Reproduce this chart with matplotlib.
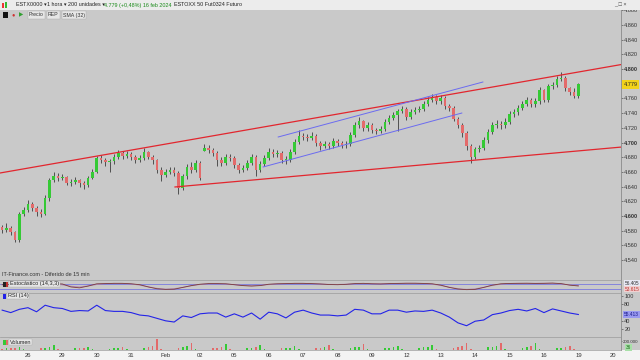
import matplotlib
matplotlib.use("Agg")
import matplotlib.pyplot as plt
import numpy as np
from matplotlib.patches import Rectangle

plt.rcParams['font.family'] = ['Liberation Sans', 'DejaVu Sans']

# ---------------- data ----------------
first_open = 4585
gap_opens = {47: 4689}
closes = [4581, 4584, 4578, 4567, 4603, 4608, 4616, 4611, 4605, 4603,
          4624, 4649, 4654, 4652, 4653, 4645, 4646, 4649, 4645, 4642,
          4652, 4660, 4679, 4676, 4673, 4675, 4680, 4686, 4682, 4684,
          4680, 4676, 4679, 4687, 4680, 4676, 4663, 4656, 4660, 4663,
          4659, 4638, 4654, 4667, 4663, 4672, 4652, 4693, 4690, 4686,
          4676, 4672, 4680, 4679, 4669, 4663, 4665, 4672, 4680, 4663,
          4671, 4679, 4687, 4684, 4686, 4676, 4676, 4687, 4701, 4709,
          4708, 4706, 4709, 4699, 4695, 4698, 4695, 4702, 4699, 4697,
          4698, 4710, 4724, 4729, 4720, 4724, 4717, 4716, 4718, 4728,
          4733, 4737, 4743, 4746, 4735, 4742, 4744, 4746, 4752, 4758,
          4762, 4756, 4761, 4750, 4747, 4732, 4724, 4713, 4695, 4680,
          4691, 4693, 4703, 4714, 4724, 4725, 4724, 4728, 4739, 4742,
          4747, 4752, 4758, 4752, 4756, 4771, 4758, 4777, 4778, 4786,
          4788, 4774, 4769, 4763, 4779]
highs = [4588, 4590, 4587, 4580, 4606, 4612, 4622, 4619, 4614, 4609,
         4628, 4652, 4660, 4658, 4657, 4655, 4650, 4653, 4651, 4648,
         4655, 4664, 4682, 4683, 4679, 4678, 4684, 4690, 4689, 4688,
         4687, 4683, 4683, 4693, 4689, 4683, 4678, 4666, 4664, 4667,
         4666, 4661, 4657, 4671, 4674, 4676, 4675, 4698, 4697, 4693,
         4688, 4680, 4684, 4685, 4682, 4672, 4669, 4676, 4685, 4683,
         4675, 4683, 4692, 4691, 4690, 4688, 4681, 4691, 4705, 4717,
         4713, 4712, 4714, 4711, 4702, 4702, 4701, 4706, 4705, 4702,
         4702, 4714, 4728, 4735, 4731, 4728, 4726, 4720, 4722, 4732,
         4737, 4741, 4746, 4750, 4748, 4746, 4748, 4750, 4756, 4762,
         4766, 4764, 4765, 4763, 4753, 4750, 4735, 4727, 4715, 4698,
         4694, 4697, 4707, 4718, 4728, 4730, 4729, 4733, 4743, 4746,
         4751, 4756, 4762, 4761, 4760, 4775, 4773, 4780, 4782, 4790,
         4796, 4790, 4776, 4774, 4781]
lows = [4577, 4578, 4574, 4564, 4565, 4600, 4606, 4607, 4600, 4598,
        4601, 4621, 4646, 4648, 4649, 4642, 4641, 4643, 4640, 4637,
        4640, 4650, 4658, 4672, 4668, 4660, 4671, 4677, 4678, 4679,
        4676, 4672, 4673, 4676, 4677, 4671, 4659, 4647, 4653, 4657,
        4655, 4630, 4635, 4651, 4659, 4660, 4649, 4688, 4686, 4681,
        4668, 4668, 4670, 4675, 4665, 4659, 4660, 4662, 4670, 4654,
        4660, 4668, 4676, 4680, 4680, 4672, 4671, 4674, 4685, 4698,
        4703, 4702, 4703, 4695, 4690, 4692, 4691, 4692, 4695, 4693,
        4693, 4695, 4708, 4720, 4716, 4716, 4713, 4712, 4713, 4716,
        4725, 4730, 4716, 4740, 4731, 4732, 4739, 4741, 4743, 4749,
        4755, 4752, 4752, 4746, 4743, 4729, 4720, 4708, 4690, 4672,
        4677, 4687, 4690, 4700, 4711, 4720, 4719, 4720, 4725, 4735,
        4738, 4744, 4749, 4748, 4748, 4753, 4755, 4755, 4773, 4775,
        4783, 4770, 4765, 4760, 4760]
volumes = [25, 40, 55, 45, 65, 12, 6, 5,
           8, 40, 55, 60, 110, 15, 6, 5,
           8, 35, 45, 50, 70, 12, 6, 5,
           8, 30, 40, 45, 60, 12, 6, 5,
           8, 45, 70, 80, 250, 20, 8, 5,
           10, 50, 60, 90, 160, 18, 8, 5,
           10, 45, 55, 70, 130, 15, 6, 5,
           8, 40, 50, 60, 110, 12, 6, 5,
           8, 35, 45, 55, 80, 12, 6, 5,
           8, 45, 55, 65, 120, 15, 6, 5,
           8, 50, 60, 75, 140, 15, 6, 5,
           8, 40, 55, 60, 100, 12, 6, 5,
           8, 45, 60, 70, 120, 15, 6, 5,
           10, 55, 70, 90, 150, 20, 8, 5,
           10, 60, 75, 90, 150, 18, 8, 5,
           10, 50, 65, 80, 150, 15, 6, 5,
           8, 40, 55, 60, 90, 12, 1]
rsi_vals = [66, 60, 68, 72, 62, 78, 72, 70, 63, 65, 64, 78, 65, 63, 63, 60,
            54, 52, 46, 40, 37, 52, 48, 57, 59, 59, 49, 57, 49, 59, 44, 61,
            57, 47, 61, 66, 59, 54, 54, 52, 54, 68, 66, 57, 57, 66, 66, 61,
            64, 63, 66, 59, 49, 35, 28, 39, 42, 55, 59, 65, 68, 64, 70, 60,
            69, 64, 59, 55.4]
stoch_k = [70, 72, 75, 78, 80, 82, 82, 78, 45, 35, 55, 80, 82, 85, 85, 80,
           70, 45, 25, 18, 20, 40, 60, 75, 82, 82, 80, 70, 60, 55, 60, 75,
           80, 82, 85, 85, 82, 78, 72, 70, 74, 82, 85, 80, 78, 82, 84, 86,
           86, 84, 80, 65, 40, 22, 15, 18, 40, 65, 80, 84, 85, 86, 84, 85,
           88, 82, 65, 56]
date_labels = ["26", "29", "30", "31", "Feb", "02", "05", "06", "07", "08",
               "09", "12", "13", "14", "15", "16", "19", "20"]
price_ticks = list(range(4540, 4881, 20))
trend_red_upper = ([-0.5, 144.2], [4658.5, 4806.3])
trend_red_lower = ([40.2, 144.2], [4639.5, 4693.9])
trend_blue_upper = ([64.2, 111.8], [4707.5, 4782.3])
trend_blue_lower = ([60.7, 106.9], [4666.7, 4740.1])
last_price = 4779

# ---------------- layout ----------------
W, H = 640, 360
BG = '#c9c9c9'
fig = plt.figure(figsize=(6.4, 3.6), dpi=100)
fig.patch.set_facecolor(BG)

def add_ax(x0, y0, x1, y1):
    a = fig.add_axes([x0 / W, 1 - y1 / H, (x1 - x0) / W, (y1 - y0) / H])
    a.set_facecolor(BG)
    return a

def style_right(a, fs=4.0):
    a.yaxis.tick_right()
    a.tick_params(axis='y', length=1.5, width=0.5, pad=0.8, colors='#555555',
                  labelsize=fs, labelcolor='#333333')
    for s in ('left', 'bottom'):
        a.spines[s].set_visible(False)
    a.spines['top'].set_color('#9a9a9a'); a.spines['top'].set_linewidth(0.5)
    a.spines['right'].set_color('#8a8a8a'); a.spines['right'].set_linewidth(0.6)

XR = 621
xlim = (-0.5, XR / 4.3 - 0.5)
n = len(closes)
idx = np.arange(n)
c = np.array(closes, float)
o = np.r_[first_open, c[:-1]]
for k, v in gap_opens.items():
    o[k] = v
up = c >= o
GREEN = '#35c935'
RED = '#e36a6a'

# main price chart
ax = add_ax(0, 10, XR, 280)
ax.vlines(idx, lows, highs, color='#3c3c3c', lw=0.6, zorder=2)
body_b = np.minimum(o, c)
body_h = np.maximum(np.abs(c - o), 0.9)
ax.bar(idx, body_h, bottom=body_b, width=0.62,
       color=[GREEN if u else RED for u in up], zorder=3, linewidth=0)
for xs, ys in (trend_red_upper, trend_red_lower):
    ax.plot(xs, ys, color='#e2262e', lw=0.9, zorder=4)
for xs, ys in (trend_blue_upper, trend_blue_lower):
    ax.plot(xs, ys, color='#6b6bf0', lw=0.7, zorder=4)
ax.set_xlim(*xlim)
ylo, yhi = 4600 - 64 * 1.3605, 4800 + 59 * 1.3605
ax.set_ylim(ylo, yhi)
style_right(ax)
ax.spines['top'].set_visible(False)
ax.set_yticks(price_ticks)
ax.set_yticklabels([f"{p // 1000}.{p % 1000:03d}" for p in price_ticks])
for lab, p in zip(ax.get_yticklabels(), price_ticks):
    if p % 100 == 0:
        lab.set_fontweight('bold')
ax.set_xticks([])
ax.text(1.0045, (last_price - ylo) / (yhi - ylo),
        "4.779", transform=ax.transAxes, fontsize=4.0, va='center', ha='left',
        color='#222222', zorder=10, clip_on=False,
        bbox=dict(boxstyle='square,pad=0.3', fc='#f2d21a', ec='none'))
ax.text(2 / XR, 3 / 270, "IT-Finance.com - Diferido de 15 min", transform=ax.transAxes,
        fontsize=4.0, color='#333333', va='bottom')

# stochastic
ax_s = add_ax(0, 280, XR, 293)
xs_ind = idx[::2]
sk = np.array(stoch_k, float)
sd = np.convolve(sk, np.ones(3) / 3, mode='same')
sd[0], sd[-1] = sk[0], (sk[-1] + sk[-2]) / 2
ax_s.axhline(80, color='#7a7adf', lw=0.6)
ax_s.axhline(20, color='#7a7adf', lw=0.6)
ax_s.plot(xs_ind, sd, color='#b48bb4', lw=0.7)
ax_s.plot(xs_ind, sk, color='#7a3b3b', lw=0.6)
ax_s.set_xlim(*xlim)
ax_s.set_ylim(-22, 122)
style_right(ax_s)
ax_s.set_xticks([]); ax_s.set_yticks([])
ax_s.text(1.006, 0.74, "56.405", transform=ax_s.transAxes, fontsize=3.4, color='#333',
          va='center', bbox=dict(boxstyle='square,pad=0.1', fc='#e8e8f4', ec='none'))
ax_s.text(1.006, 0.30, "53.615", transform=ax_s.transAxes, fontsize=3.4, color='#c03030',
          va='center', bbox=dict(boxstyle='square,pad=0.1', fc='#f0d0d0', ec='none'))

# RSI
ax_r = add_ax(0, 293, XR, 337)
ax_r.plot(xs_ind, rsi_vals, color='#2323e8', lw=0.8)
ax_r.set_xlim(*xlim)
ax_r.set_ylim(0.5, 107.8)
style_right(ax_r)
ax_r.set_yticks([20, 40, 80, 100])
ax_r.set_yticklabels(["20", "40", "80", "100"])
ax_r.set_xticks([])
ax_r.text(1.0045, (rsi_vals[-1] - 0.5) / 107.3, "55.413", transform=ax_r.transAxes,
          fontsize=3.4, color='#1a1a8a', va='center',
          bbox=dict(boxstyle='square,pad=0.25', fc='#9a9af0', ec='none'))

# volume
ax_v = add_ax(0, 337, XR, 350)
ax_v.bar(idx, volumes, width=0.35, color=[GREEN if u else RED for u in up], linewidth=0)
ax_v.set_xlim(*xlim)
ax_v.set_ylim(0, 289)
style_right(ax_v, fs=3.2)
ax_v.tick_params(axis='y', length=1, pad=0.5)
ax_v.spines['bottom'].set_visible(True)
ax_v.spines['bottom'].set_color('#9a9a9a'); ax_v.spines['bottom'].set_linewidth(0.5)
ax_v.set_yticks([200])
ax_v.set_yticklabels(["200.000"])
ax_v.set_xticks([6 + 8 * k for k in range(len(date_labels))])
ax_v.set_xticklabels(date_labels, fontsize=4.2, color='#333')
ax_v.tick_params(axis='x', length=0, pad=2.5)
ax_v.text(1.008, 0.22, "36", transform=ax_v.transAxes, fontsize=3.4, color='#1a6a1a',
          va='center', bbox=dict(boxstyle='square,pad=0.2', fc='#a8e0a8', ec='none'))

# white date strip
fig.patches.append(Rectangle((0, 0), 1, 10 / H, transform=fig.transFigure,
                             fc='#f3f3f3', ec='none', zorder=-1))

# panel labels
def panel_label(x, y, text, sq_colors):
    fy = 1 - y / H
    for j, col in enumerate(sq_colors):
        fig.patches.append(Rectangle(((x + j * 2.5) / W, fy - 2.5 / H), 2.5 / W, 5 / H,
                                     transform=fig.transFigure, fc=col, ec='none', zorder=5))
    fig.text((x + 2.5 * len(sq_colors) + 2) / W, fy, text, fontsize=4.0, color='#222',
             va='center', zorder=5,
             bbox=dict(boxstyle='square,pad=0.15', fc='#e6e6e6', ec='#b0b0b0', lw=0.3))

panel_label(3, 284, "Estocástico (14,3,3)", ['#222222', '#c03030'])
panel_label(3, 296, "RSI (14)", ['#2323e8'])
panel_label(3, 342, "Volumen", ['#35c935', '#e36a6a'])

# top toolbar
fig.patches.append(Rectangle((0, 1 - 10 / H), 1, 10 / H, transform=fig.transFigure,
                             fc='#ececec', ec='none', zorder=5))
ty = 1 - 5 / H
tb_fs = 3.9
for x0, txt in ((16, "ESTX0000 ▾"), (47, "1 hora ▾"), (68, "200 unidades ▾")):
    fig.text(x0 / W, ty, txt, fontsize=tb_fs, color='#222', va='center', zorder=6)
fig.text(104 / W, ty, "4.779 (+0,48%) 16 feb 2024", fontsize=tb_fs, color='#1a8a1a',
         va='center', zorder=6)
fig.text(174 / W, ty, "ESTOXX 50 Fut0324 Futuro", fontsize=tb_fs, color='#222',
         va='center', zorder=6)
fig.patches.append(Rectangle((2 / W, 1 - 8 / H), 2 / W, 5 / H, transform=fig.transFigure,
                             fc='#e33', ec='none', zorder=6))
fig.patches.append(Rectangle((5 / W, 1 - 8 / H), 2 / W, 6 / H, transform=fig.transFigure,
                             fc='#3b3', ec='none', zorder=6))
fig.text(614 / W, ty, "_ □ ×", fontsize=4.0, color='#444', va='center', zorder=6)

# second toolbar row
ry = 1 - 15 / H
fig.patches.append(Rectangle((3 / W, 1 - 18 / H), 5 / W, 6 / H, transform=fig.transFigure,
                             fc='#111', ec='none', zorder=6))
for x0, txt in ((29, "Precio"), (48, "REP"), (63, "SMA (32)")):
    fig.text(x0 / W, ry, txt, fontsize=3.8, color='#333', va='center', zorder=6,
             bbox=dict(boxstyle='square,pad=0.2', fc='#e6e6e6', ec='#aaaaaa', lw=0.3))
fig.text(11 / W, ry, "●", fontsize=4, color='#d03030', va='center', zorder=6)
fig.text(19 / W, ry, "▶", fontsize=4, color='#30a030', va='center', zorder=6)

fig.savefig("out.png", dpi=100, facecolor=fig.get_facecolor())
